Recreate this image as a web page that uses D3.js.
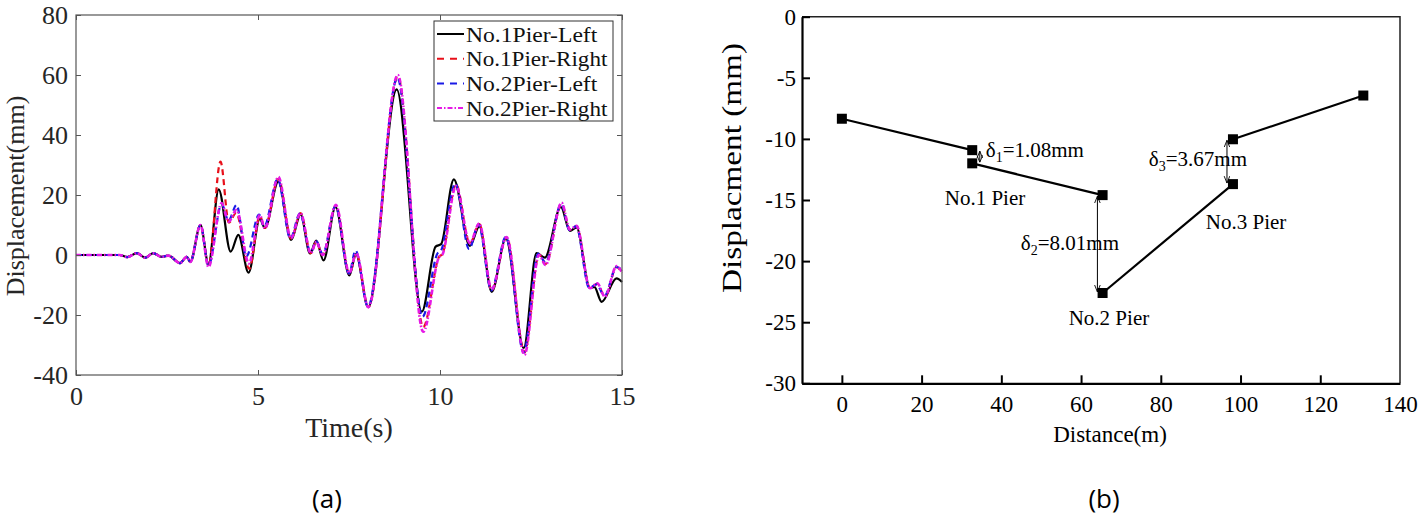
<!DOCTYPE html>
<html>
<head>
<meta charset="utf-8">
<script src="https://cdn.jsdelivr.net/npm/d3@7"></script>
<style>
  body { margin: 0; background: #fff; }
  svg { display: block; }
  text { font-family: "Liberation Serif", "Times New Roman", serif; }
</style>
</head>
<body>
<div id="wrapper"></div>
<script>
// ---- data: (a) displacement time histories (extrema) ----
const quietStart = [[0, 0], [1.2, 0], [1.41, -0.7], [1.67, 0.6], [1.9, -0.9], [2.12, 0.6],
  [2.35, -0.6], [2.54, -0.2], [2.86, -2.7], [3.04, -0.6], [3.14, -2.3], [3.42, 10]];

const pier1Left = quietStart.concat([[3.64, -3], [3.92, 21.9], [4.25, 1.1], [4.46, 6.7], [4.74, -5.9],
  [5.05, 12], [5.19, 9], [5.56, 24.5], [5.91, 5], [6.17, 13.5], [6.43, 0.5], [6.6, 4.8], [6.8, -1.8],
  [7.13, 16], [7.51, -6.8], [7.69, 0.3], [8.03, -17.4], [8.81, 55.2], [9.5, -18.9], [9.88, 2.8],
  [10.03, 3.6], [10.38, 25.2], [10.82, 3], [11.08, 9.5], [11.42, -12.3], [11.81, 5.5], [12.3, -31],
  [12.65, 0.6], [12.88, -0.9], [13.32, 16], [13.57, 8], [13.75, 9.2], [14.12, -11], [14.24, -10.6],
  [14.44, -15.6], [14.85, -7.8], [15, -9]]);

const pier1Right = quietStart.concat([[3.64, -3.5], [3.97, 31.1], [4.2, 10.8], [4.4, 14], [4.76, -4.6],
  [5.05, 13], [5.19, 9], [5.56, 25.5], [5.91, 5.5], [6.17, 14], [6.45, 0.6], [6.6, 4.4], [6.78, 0],
  [7.14, 16.5], [7.51, -6.3], [7.7, 0.6], [8.03, -17.4], [8.84, 59.5], [9.54, -24], [9.98, -0.5],
  [10.06, 0.2], [10.44, 23.5], [10.82, 3.8], [11.08, 10.3], [11.42, -11.8], [11.83, 6], [12.32, -32.5],
  [12.72, 0.2], [12.9, -3], [13.34, 17], [13.57, 8.5], [13.75, 9.6], [14.12, -11], [14.32, -9.6],
  [14.53, -13.8], [14.85, -4], [15, -6]]);

const pier2Left = quietStart.concat([[3.64, -3.5], [4.0, 17], [4.19, 11.5], [4.41, 16.7], [4.68, -0.5],
  [5.03, 13.5], [5.17, 9.5], [5.54, 25.3], [5.89, 5.5], [6.15, 13.8], [6.45, 0.8], [6.6, 4.6], [6.78, 0.3],
  [7.13, 16.3], [7.5, -6.2], [7.68, 1.5], [8.02, -17.2], [8.83, 59], [9.52, -20.6], [9.93, 0.5],
  [10.03, 1.5], [10.42, 23.8], [10.8, 2], [11.06, 10.2], [11.41, -11.8], [11.81, 6], [12.3, -32.5],
  [12.7, 0.5], [12.9, -2.5], [13.33, 17], [13.56, 8.3], [13.74, 9.6], [14.1, -11], [14.3, -9.8],
  [14.52, -13.6], [14.85, -4], [15, -5]]);

const pier2Right = quietStart.concat([[3.64, -4], [4.0, 17.3], [4.19, 11.1], [4.41, 15], [4.75, -2.8],
  [5.05, 13.3], [5.19, 8.9], [5.56, 26], [5.91, 5.6], [6.17, 14], [6.45, 0.6], [6.6, 4.4], [6.78, 0],
  [7.14, 16.7], [7.51, -6], [7.7, 0.6], [8.03, -17.4], [8.84, 60], [9.54, -25.6], [9.98, -0.6],
  [10.06, 0], [10.44, 23], [10.82, 4], [11.08, 10.5], [11.42, -11.5], [11.83, 6], [12.32, -33.3],
  [12.72, 0], [12.9, -3.3], [13.34, 17.4], [13.57, 8.5], [13.75, 9.7], [14.12, -11.1], [14.32, -9.4],
  [14.53, -13.9], [14.85, -3.7], [15, -5.8]]);

const seriesNames = ["No.1Pier-Left", "No.1Pier-Right", "No.2Pier-Left", "No.2Pier-Right"];
const timeTicks = [0, 5, 10, 15];
const dispTicks = [-40, -20, 0, 20, 40, 60, 80];

// ---- data: (b) pier displacement profile ----
const pierDistance = [0, 32.7, 32.7, 65.4, 65.4, 98.1, 98.1, 130.8];
const pierDisp = [-8.35, -10.92, -12.0, -14.6, -22.61, -13.7, -10.03, -6.45];
const distTicks = [0, 20, 40, 60, 80, 100, 120, 140];
const profileTicks = [0, -5, -10, -15, -20, -25, -30];
// gap annotations: arrow at x between two displacements
const gapLabels = [
  { sub: "1", value: "1.08mm", x: 34.6, top: -10.92, bottom: -12.0, tx: 36.1, ty: -11.5 },
  { sub: "2", value: "8.01mm", x: 64.1, top: -14.6, bottom: -22.61, tx: 44.9, ty: -19.1 },
  { sub: "3", value: "3.67mm", x: 96.6, top: -10.03, bottom: -13.7, tx: 77.0, ty: -12.2 },
];
const pierLabels = [
  { text: "No.1 Pier", x: 25.8, y: -15.4 },
  { text: "No.2 Pier", x: 56.9, y: -25.2 },
  { text: "No.3 Pier", x: 91.3, y: -17.4 },
];

// plain hyphen minus, as in the figure
const plainFormat = (d) => String(d);
const serif = '"Liberation Serif", "Times New Roman", serif';

// ---- canvas ----
const wrapper = d3.select("#wrapper").append("svg")
  .attr("width", 1423).attr("height", 516);
wrapper.append("rect").attr("width", 1423).attr("height", 516).attr("fill", "#fff");

// ================= (a) =================
const dimA = { left: 76, top: 15, width: 546, height: 360 };
const boundsA = wrapper.append("g").attr("transform", `translate(${dimA.left},${dimA.top})`);

const xA = d3.scaleLinear().domain([0, 15]).range([0, dimA.width]);
const yA = d3.scaleLinear().domain([-40, 80]).range([dimA.height, 0]);

const frameColor = "#555";
const textColor = "#262626";

const seriesData = [pier1Left, pier1Right, pier2Left, pier2Right];
const seriesStyle = [
  { color: "#000", width: 2.2, dash: null },
  { color: "#e8101a", width: 2.2, dash: "6,4" },
  { color: "#1a1ae6", width: 2.2, dash: "6,4" },
  { color: "#e619e6", width: 2.6, dash: "5,2,1.5,2" },
];

const lineA = d3.line().x((d) => xA(d[0])).y((d) => yA(d[1])).curve(d3.curveMonotoneX);

boundsA.selectAll(".series").data(seriesData).join("path")
  .attr("class", "series")
  .attr("d", lineA)
  .attr("fill", "none")
  .attr("stroke", (d, i) => seriesStyle[i].color)
  .attr("stroke-width", (d, i) => seriesStyle[i].width)
  .attr("stroke-dasharray", (d, i) => seriesStyle[i].dash);

// axes (box with inward ticks on all sides)
function styleAxis(g, fontSize) {
  g.attr("font-family", null);
  g.select(".domain").remove();
  g.selectAll(".tick line").attr("stroke", frameColor);
  g.selectAll(".tick text").attr("fill", textColor)
    .attr("font-family", serif).style("font-family", serif).style("font-size", fontSize + "px");
}
boundsA.append("g").attr("transform", `translate(0,${dimA.height})`)
  .call(d3.axisBottom(xA).tickValues(timeTicks).tickSize(-5).tickPadding(12).tickFormat(plainFormat))
  .call((g) => styleAxis(g, 26));
boundsA.append("g")
  .call(d3.axisTop(xA).tickValues(timeTicks).tickSize(-5).tickFormat(""))
  .call((g) => styleAxis(g, 26));
boundsA.append("g")
  .call(d3.axisLeft(yA).tickValues(dispTicks).tickSize(-5).tickPadding(8).tickFormat(plainFormat))
  .call((g) => styleAxis(g, 26));
boundsA.append("g").attr("transform", `translate(${dimA.width},0)`)
  .call(d3.axisRight(yA).tickValues(dispTicks).tickSize(-5).tickFormat(""))
  .call((g) => styleAxis(g, 26));
boundsA.append("rect")
  .attr("width", dimA.width).attr("height", dimA.height)
  .attr("fill", "none").attr("stroke", frameColor).attr("stroke-width", 1.2);

// axis labels
wrapper.append("text")
  .attr("transform", `translate(24,196) rotate(-90)`)
  .attr("text-anchor", "middle").attr("fill", textColor)
  .style("font-size", "26px").text("Displacement(mm)");
wrapper.append("text")
  .attr("x", dimA.left + xA(7.5)).attr("y", 437)
  .attr("text-anchor", "middle").attr("fill", textColor)
  .style("font-size", "28px").text("Time(s)");

// legend
const legend = wrapper.append("g").attr("transform", "translate(434,21)");
legend.append("rect").attr("width", 179).attr("height", 100)
  .attr("fill", "#fff").attr("stroke", "#333").attr("stroke-width", 1);
const legendItems = legend.selectAll(".item").data(seriesNames).join("g")
  .attr("class", "item")
  .attr("transform", (d, i) => `translate(0,${13 + i * 24.7})`);
legendItems.append("line")
  .attr("x1", 3).attr("x2", 30)
  .attr("stroke", (d, i) => seriesStyle[i].color)
  .attr("stroke-width", 2)
  .attr("stroke-dasharray", (d, i) => (i === 1 || i === 2 ? "7,6" : seriesStyle[i].dash));
legendItems.append("text")
  .attr("x", 32).attr("y", 7.5)
  .attr("fill", "#111")
  .style("font-size", "22px")
  .attr("textLength", (d) => d.length * 10.1).attr("lengthAdjust", "spacingAndGlyphs")
  .text((d) => d);

// caption
wrapper.append("text")
  .attr("x", 327).attr("y", 508).attr("text-anchor", "middle")
  .style("font-family", '"Open Sans", sans-serif').style("font-size", "26px")
  .text("(a)");

// ================= (b) =================
const dimB = { left: 802, top: 16.7, width: 598, height: 366.6 };
const boundsB = wrapper.append("g").attr("transform", `translate(${dimB.left},${dimB.top})`);

const xB = d3.scaleLinear().domain([-10, 140]).range([0, dimB.width]);
const yB = d3.scaleLinear().domain([-30, 0]).range([dimB.height, 0]);

// frame top/right
boundsB.append("path")
  .attr("d", `M0,0H${dimB.width}V${dimB.height}`)
  .attr("fill", "none").attr("stroke", "#222").attr("stroke-width", 1.5);

const xAxisB = boundsB.append("g").attr("transform", `translate(0,${dimB.height})`)
  .call(d3.axisBottom(xB).tickValues(distTicks).tickSize(-8).tickSizeOuter(0).tickPadding(12).tickFormat(plainFormat));
const yAxisB = boundsB.append("g")
  .call(d3.axisLeft(yB).tickValues(profileTicks).tickSize(-8).tickSizeOuter(0).tickPadding(6).tickFormat(plainFormat));
[xAxisB, yAxisB].forEach((g) => {
  g.attr("font-family", null);
  g.select(".domain").attr("stroke", "#000").attr("stroke-width", 2.2);
  g.selectAll(".tick line").attr("stroke", "#000").attr("stroke-width", 2);
  g.selectAll(".tick text").attr("fill", "#000")
    .attr("font-family", serif).style("font-family", serif).style("font-size", "23px");
});
// the 140 tick sits on the right frame: hide its inner tick
xAxisB.selectAll(".tick").filter((d) => d === 140).select("line").remove();

// profile segments (pairs of points)
const points = pierDistance.map((d, i) => [d, pierDisp[i]]);
const segments = d3.range(0, points.length, 2).map((i) => [points[i], points[i + 1]]);
const lineB = d3.line().x((d) => xB(d[0])).y((d) => yB(d[1]));
boundsB.selectAll(".seg").data(segments).join("path")
  .attr("class", "seg").attr("d", lineB)
  .attr("fill", "none").attr("stroke", "#000").attr("stroke-width", 2.2);
boundsB.selectAll(".pt").data(points).join("rect")
  .attr("class", "pt")
  .attr("x", (d) => xB(d[0]) - 5).attr("y", (d) => yB(d[1]) - 5)
  .attr("width", 10).attr("height", 10).attr("fill", "#000");

// double arrows
const defs = wrapper.append("defs");
defs.append("marker").attr("id", "arrowEnd")
  .attr("viewBox", "0 0 10 10").attr("refX", 10).attr("refY", 5)
  .attr("markerWidth", 7).attr("markerHeight", 7).attr("orient", "auto-start-reverse")
  .append("path").attr("d", "M0,1L10,5L0,9").attr("fill", "none").attr("stroke", "#000").attr("stroke-width", 1.3);

boundsB.selectAll(".gap").data(gapLabels).join("line")
  .attr("class", "gap")
  .attr("x1", (d) => xB(d.x)).attr("x2", (d) => xB(d.x))
  .attr("y1", (d) => yB(d.top) + 1).attr("y2", (d) => yB(d.bottom) - 1)
  .attr("stroke", "#000").attr("stroke-width", 1)
  .attr("marker-start", "url(#arrowEnd)").attr("marker-end", "url(#arrowEnd)");

const gapText = boundsB.selectAll(".gapText").data(gapLabels).join("text")
  .attr("class", "gapText")
  .attr("x", (d) => xB(d.tx)).attr("y", (d) => yB(d.ty))
  .style("font-size", "21px");
gapText.append("tspan").text("δ");
gapText.append("tspan").attr("dy", 5).style("font-size", "14px").text((d) => d.sub);
gapText.append("tspan").attr("dy", -5).text((d) => "=" + d.value);

boundsB.selectAll(".pierText").data(pierLabels).join("text")
  .attr("class", "pierText")
  .attr("x", (d) => xB(d.x)).attr("y", (d) => yB(d.y))
  .style("font-size", "21px")
  .text((d) => d.text);

// axis labels
wrapper.append("text")
  .attr("transform", `translate(741,168) rotate(-90)`)
  .attr("text-anchor", "middle")
  .style("font-size", "28px")
  .attr("textLength", 250).attr("lengthAdjust", "spacingAndGlyphs")
  .text("Displacment (mm)");
wrapper.append("text")
  .attr("x", 1110).attr("y", 442).attr("text-anchor", "middle")
  .style("font-size", "23px").text("Distance(m)");

wrapper.append("text")
  .attr("x", 1104).attr("y", 508).attr("text-anchor", "middle")
  .style("font-family", '"Open Sans", sans-serif').style("font-size", "26px")
  .text("(b)");
</script>
</body>
</html>
